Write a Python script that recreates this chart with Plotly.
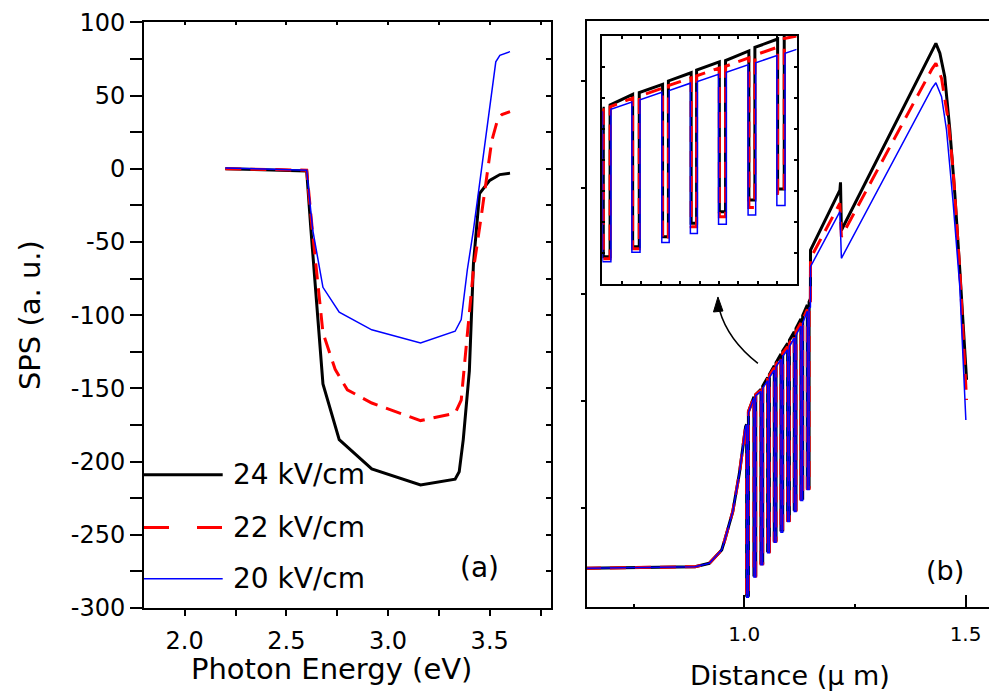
import plotly.graph_objects as go

# ---------------- Panel (a): SPS vs photon energy ----------------
e24 = [2.20, 2.60, 2.62, 2.66, 2.68, 2.76, 2.92, 3.16, 3.33, 3.35, 3.37, 3.40, 3.42, 3.45, 3.50, 3.55, 3.60]
s24 = [0.0, -1.5, -40, -110, -147, -185, -205, -216, -212, -207, -185, -138, -65, -17, -8, -4, -3]

e22 = [2.20, 2.60, 2.63, 2.66, 2.68, 2.74, 2.80, 2.92, 3.16, 3.33, 3.36, 3.38, 3.42, 3.46, 3.51, 3.54, 3.56, 3.60]
s22 = [0.0, -1.0, -45, -85, -112, -137, -151, -160, -172, -167, -158, -128, -69, -31, 19, 34, 37, 39]

e20 = [2.20, 2.60, 2.63, 2.68, 2.76, 2.92, 3.16, 3.33, 3.36, 3.39, 3.42, 3.53, 3.55, 3.60]
s20 = [0.5, -1.0, -42, -81, -98, -110, -119, -111, -103, -69, -42, 73, 77.5, 80]

labels = ["24 kV/cm", "22 kV/cm", "20 kV/cm"]
sps_ticks = [-300, -250, -200, -150, -100, -50, 0, 50, 100]
sps_ticktext = ["-300", "-250", "-200", "-150", "-100", "-50", "0", "50", "100"]
e_ticks = [2.0, 2.5, 3.0, 3.5]
e_ticktext = ["2.0", "2.5", "3.0", "3.5"]
d_ticks = [1.0, 1.5]
d_ticktext = ["1.0", "1.5"]

# ---------------- Panel (b): profile vs distance ----------------
pre_x = [0.640, 0.889, 0.921, 0.949, 0.956, 0.974, 0.989, 1.003]
pre_y = [-0.568, -0.553, -0.521, -0.396, -0.303, -0.037, 0.322, 0.759]
well_l = [1.0054, 1.0219, 1.0377, 1.0528, 1.0678, 1.0829, 1.0980, 1.1129, 1.1280, 1.1425]
well_r = [1.0094, 1.0259, 1.0417, 1.0568, 1.0718, 1.0869, 1.1020, 1.1169, 1.1320, 1.1465]

b24_top0 = [0.78, 1.04, 1.11, 1.22, 1.33, 1.44, 1.54, 1.65, 1.77, 1.90]
b24_top1 = [0.90, 1.06, 1.14, 1.25, 1.36, 1.47, 1.57, 1.68, 1.80, 1.93]
b24_bot = [-0.82, -0.631, -0.515, -0.403, -0.303, -0.209, -0.109, -0.015, 0.088, 0.191]
b24_px = [1.1495, 1.1497, 1.2161, 1.2175, 1.2195, 1.424, 1.433, 1.442, 1.453, 1.4645, 1.4757, 1.487, 1.5023]
b24_py = [1.96, 2.413, 2.976, 3.05, 2.60, 4.28, 4.352, 4.259, 4.039, 3.54, 2.947, 2.228, 1.197]

b22_top0 = [0.78, 1.04, 1.10, 1.21, 1.31, 1.42, 1.51, 1.62, 1.73, 1.86]
b22_top1 = [0.90, 1.06, 1.13, 1.24, 1.34, 1.45, 1.54, 1.65, 1.76, 1.89]
b22_bot = [-0.83, -0.64, -0.525, -0.413, -0.313, -0.219, -0.119, -0.025, 0.078, 0.181]
b22_px = [1.1495, 1.1497, 1.2161, 1.2195, 1.424, 1.433, 1.4458, 1.4607, 1.472, 1.487, 1.5023]
b22_py = [1.92, 2.337, 2.853, 2.54, 4.11, 4.165, 4.024, 3.634, 3.165, 2.228, 1.009]

b20_top0 = [0.78, 1.03, 1.09, 1.19, 1.29, 1.39, 1.48, 1.59, 1.70, 1.84]
b20_top1 = [0.89, 1.05, 1.12, 1.22, 1.32, 1.42, 1.51, 1.62, 1.73, 1.87]
b20_bot = [-0.84, -0.65, -0.535, -0.423, -0.323, -0.229, -0.129, -0.035, 0.068, 0.171]
b20_px = [1.1495, 1.1497, 1.2161, 1.2195, 1.424, 1.433, 1.4458, 1.457, 1.472, 1.487, 1.5007]
b20_py = [1.88, 2.259, 2.774, 2.337, 3.93, 3.983, 3.852, 3.54, 2.853, 2.071, 0.822]

# ---------------- Inset (zoom of the wells, arbitrary units) ----------------
in_l = [0.5, 15.6, 31.0, 45.7, 60.2, 75.4, 90.2]
in_r = [4.0, 19.0, 34.0, 48.5, 63.4, 78.5, 93.6]
in_l20 = [0.1, 15.2, 30.6, 45.3, 59.8, 75.0, 89.8]
in_r20 = [4.4, 19.4, 34.4, 48.9, 63.8, 78.9, 94.0]

i24_start, i24_end = (0.0, 70.9), (100.0, 112.0)
i24_top0 = [70.9, 76.5, 80.5, 85.2, 89.6, 94.0, 98.8]
i24_top1 = [72.2, 77.2, 81.9, 86.3, 90.1, 95.4, 110.0]
i24_bot = [11.1, 15.1, 19.2, 24.6, 29.2, 34.0, 38.4]

i22_start, i22_end = (0.0, 70.3), (100.0, 100.0)
i22_top0 = [70.3, 75.0, 79.0, 83.1, 87.1, 91.2, 95.5]
i22_top1 = [71.5, 75.8, 80.0, 84.0, 87.8, 92.3, 99.0]
i22_bot = [10.3, 14.3, 18.2, 23.2, 27.2, 30.9, 36.6]

i20_start, i20_end = (0.0, 69.5), (100.0, 94.6)
i20_top0 = [69.6, 73.4, 77.3, 81.0, 84.6, 88.4, 92.1]
i20_top1 = [70.5, 74.3, 78.0, 81.7, 85.4, 89.2, 93.0]
i20_bot = [9.1, 12.9, 16.8, 20.5, 24.2, 27.9, 31.7]


def wells(x0, y0, wl, wr, top0, top1, bot, x1, y1):
    xs, ys = list(x0), list(y0)
    for a, b, t0, t1, bt in zip(wl, wr, top0, top1, bot):
        xs += [a, a, b, b]
        ys += [t0, bt, bt, t1]
    xs += list(x1)
    ys += list(y1)
    return xs, ys


FONT = "DejaVu Sans"
BLACK = dict(color="#000000", width=3)
RED = dict(color="#ff0000", width=3, dash="16px,9px")
BLUE = dict(color="#0000ff", width=1.5)
styles = [BLACK, RED, BLUE]

fig = go.Figure()

# panel (a)
for ex, sy, st, lb in zip([e24, e22, e20], [s24, s22, s20], styles, labels):
    fig.add_trace(go.Scatter(x=ex, y=sy, mode="lines", line=st, name=lb,
                             showlegend=False, xaxis="x", yaxis="y"))

# panel (b)
sets_b = [
    (b24_top0, b24_top1, b24_bot, b24_px, b24_py),
    (b22_top0, b22_top1, b22_bot, b22_px, b22_py),
    (b20_top0, b20_top1, b20_bot, b20_px, b20_py),
]
for (t0, t1, bt, px, py), st, lb in zip(sets_b, styles, labels):
    xs, ys = wells(pre_x, pre_y, well_l, well_r, t0, t1, bt, px, py)
    fig.add_trace(go.Scatter(x=xs, y=ys, mode="lines", line=st, name=lb,
                             showlegend=False, xaxis="x2", yaxis="y2"))

# inset
sets_i = [
    (in_l, in_r, i24_start, i24_top0, i24_top1, i24_bot, i24_end),
    (in_l, in_r, i22_start, i22_top0, i22_top1, i22_bot, i22_end),
    (in_l20, in_r20, i20_start, i20_top0, i20_top1, i20_bot, i20_end),
]
for (wl, wr, s0, t0, t1, bt, s1), st, lb in zip(sets_i, styles, labels):
    xs, ys = wells([s0[0]], [s0[1]], wl, wr, t0, t1, bt, [s1[0]], [s1[1]])
    fig.add_trace(go.Scatter(x=xs, y=ys, mode="lines", line=st, name=lb,
                             showlegend=False, xaxis="x3", yaxis="y3"))

# dummy trace for the mirrored inner-tick axes of panel (a)
fig.add_trace(go.Scatter(x=[None], y=[None], xaxis="x4", yaxis="y4", showlegend=False))

ax_common = dict(showgrid=False, zeroline=False, showline=True, linecolor="black",
                 linewidth=2, tickcolor="black", tickwidth=1.5,
                 tickfont=dict(family=FONT, size=24, color="black"))

fig.update_layout(
    width=989, height=693,
    margin=dict(l=144, r=0, t=20, b=85),
    paper_bgcolor="white", plot_bgcolor="white",
    font=dict(family=FONT, color="black"),
    xaxis=dict(ax_common, domain=[0, 0.4813], range=[1.8, 3.8],
               tickvals=e_ticks, ticktext=e_ticktext, ticks="outside", ticklen=6, mirror=True,
               ticklabelstandoff=4,
               minor=dict(dtick=0.25, tick0=0, ticks="outside", ticklen=6, tickcolor="black", tickwidth=1.5),
               anchor="y"),
    yaxis=dict(ax_common, domain=[0, 0.9961], range=[-300, 100],
               tickvals=sps_ticks, ticktext=sps_ticktext,
               ticks="outside", ticklen=12, mirror=True,
               minor=dict(dtick=25, tick0=0, ticks="outside", ticklen=12, tickcolor="black", tickwidth=1.5),
               anchor="x"),
    xaxis4=dict(overlaying="x", side="top", range=[1.8, 3.8], dtick=0.25, tick0=0,
                ticks="inside", ticklen=3, tickcolor="black", tickwidth=1.5,
                showticklabels=False, showline=False, showgrid=False, zeroline=False, anchor="y4"),
    yaxis4=dict(overlaying="y", side="right", range=[-300, 100], dtick=25, tick0=0,
                ticks="inside", ticklen=5, tickcolor="black", tickwidth=1.5,
                showticklabels=False, showline=False, showgrid=False, zeroline=False, anchor="x4"),
    xaxis2=dict(ax_common, domain=[0.5239, 1], range=[0.644, 1.553],
                tickvals=d_ticks, ticktext=d_ticktext, ticks="inside", ticklen=12, mirror=True,
                tickfont=dict(family=FONT, size=20, color="black"), ticklabelstandoff=8,
                minor=dict(dtick=0.25, tick0=0, ticks="inside", ticklen=3, tickcolor="black", tickwidth=1.5),
                anchor="y2"),
    yaxis2=dict(ax_common, domain=[0.0022, 0.9988], range=[-0.928, 4.564], dtick=1, tick0=0,
                ticks="outside", ticklen=4, showticklabels=False, mirror=False, anchor="x2"),
    xaxis3=dict(ax_common, domain=[0.5424, 0.7724], range=[0, 100], dtick=10, tick0=0,
                ticks="inside", ticklen=3, mirror="ticks", showticklabels=False, anchor="y3"),
    yaxis3=dict(ax_common, domain=[0.5505, 0.9728], range=[0, 100], dtick=12.5, tick0=0,
                ticks="inside", ticklen=3, mirror="ticks", showticklabels=False, anchor="x3"),
)

# legend drawn inside panel (a)
leg_y = [-209, -245, -280]
leg_dash = [None, "25px,28px", None]
for st, lb, yy, dd in zip(styles, labels, leg_y, leg_dash):
    ln = dict(st)
    if dd:
        ln["dash"] = dd
    fig.add_shape(type="line", xref="x", yref="y", x0=1.8, x1=2.187, y0=yy, y1=yy, line=ln)
    fig.add_annotation(x=2.226, y=yy, xref="x", yref="y", text=lb, showarrow=False,
                       xanchor="left", yanchor="middle", font=dict(family=FONT, size=28, color="black"))

fig.add_annotation(x=3.45, y=-272, xref="x", yref="y", text="(a)", showarrow=False,
                   xanchor="center", font=dict(family=FONT, size=28, color="black"))
fig.add_annotation(x=1.453, y=-0.593, xref="x2", yref="y2", text="(b)", showarrow=False,
                   xanchor="center", font=dict(family=FONT, size=27, color="black"))

# axis titles
fig.add_annotation(x=0.2221, y=-0.103, xref="paper", yref="paper", text="Photon Energy (eV)",
                   showarrow=False, xanchor="center", yanchor="middle",
                   font=dict(family=FONT, size=29, color="black"))
fig.add_annotation(x=0.7645, y=-0.1156, xref="paper", yref="paper", text="Distance (\u03bc m)",
                   showarrow=False, xanchor="center", yanchor="middle",
                   font=dict(family=FONT, size=27, color="black"))
fig.add_annotation(x=-0.135, y=0.498, xref="paper", yref="paper", text="SPS (a. u.)",
                   textangle=-90, showarrow=False, xanchor="center", yanchor="middle",
                   font=dict(family=FONT, size=29, color="black"))

# curved arrow pointing to the inset
arc = [(1.0309, 1.353), (0.9632, 1.572), (0.9440, 1.853)]
head = [(0.9406, 1.975), (0.9304, 1.834), (0.9519, 1.843)]
fig.add_shape(type="path", xref="x2", yref="y2",
              path=f"M {arc[0][0]},{arc[0][1]} Q {arc[1][0]},{arc[1][1]} {arc[2][0]},{arc[2][1]}",
              line=dict(color="black", width=1.5))
fig.add_shape(type="path", xref="x2", yref="y2",
              path=f"M {head[0][0]},{head[0][1]} L {head[1][0]},{head[1][1]} L {head[2][0]},{head[2][1]} Z",
              fillcolor="black", line=dict(color="black", width=1))

fig.write_html("out.html", config={"displayModeBar": False},
               post_script="document.body.style.margin='0px';document.body.style.overflow='hidden';")
